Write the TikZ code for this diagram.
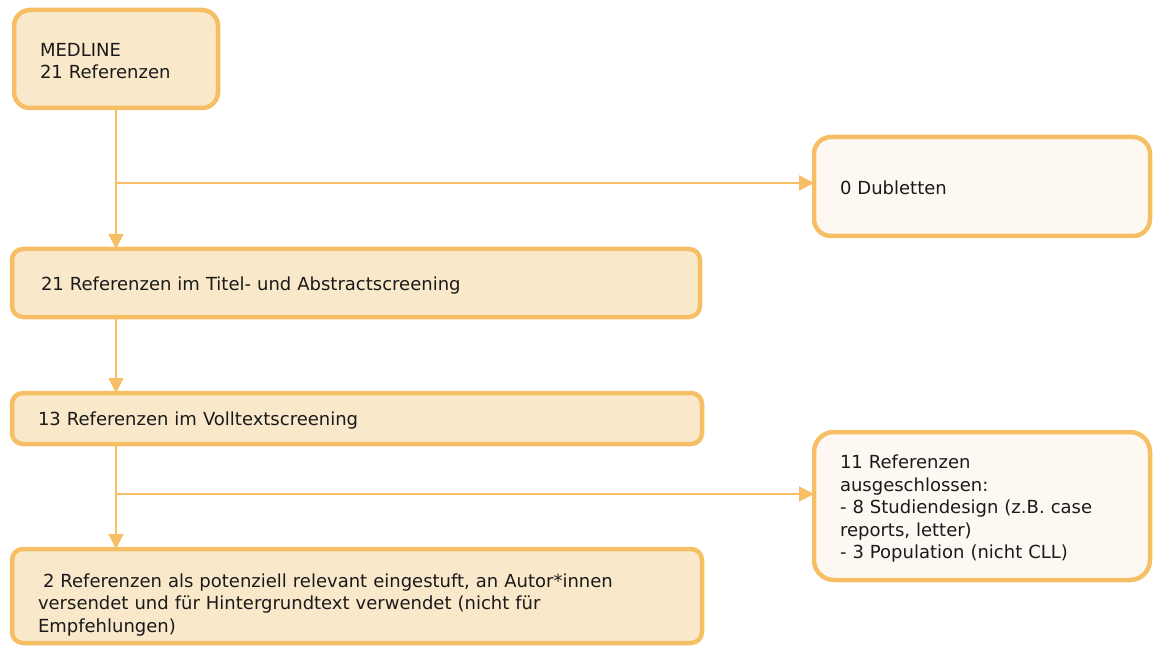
\documentclass[tikz,border=0pt]{standalone}
\usepackage{fontspec}
\setmainfont{DejaVu Sans}
\usetikzlibrary{arrows.meta}
\definecolor{borange}{HTML}{F7BF65}
\definecolor{bfill}{HTML}{FAE8CB}
\definecolor{bpale}{HTML}{FDF9F2}
\definecolor{btext}{HTML}{1A1A1A}
\tikzset{
  box/.style={draw=borange, line width=4.5pt, fill=bfill, rounded corners=11pt,
    anchor=north west, align=left, inner xsep=26pt, inner ysep=0pt, outer sep=0pt,
    text=btext, font=\fontsize{18}{22.5}\selectfont},
  sidebox/.style={box, fill=bpale, rounded corners=17pt},
  conn/.style={draw=borange, line width=2pt, -{Triangle[length=15pt,width=15pt]}}
}
\begin{document}
\begin{tikzpicture}[x=1pt,y=-1pt]
\useasboundingbox (0,0) rectangle (1154,647);
\node[box, rounded corners=16pt, text width=152pt, minimum height=98pt] (medline) at (14,10) {\rule{0pt}{17pt}MEDLINE\\21 Referenzen};
\node[sidebox, text width=284pt, minimum height=99pt] (dub) at (814,137) {\rule{0pt}{16pt}0 Dubletten};
\node[box, inner xsep=29pt, text width=630pt, minimum height=68pt] (titel) at (12,249) {\rule{0pt}{19pt}21 Referenzen im Titel- und Abstractscreening};
\node[box, text width=638pt, minimum height=51pt] (voll) at (12,393) {\rule{0pt}{17pt}13 Referenzen im Volltextscreening};
\node[box, text width=638pt, minimum height=94pt] (rel) at (12,549) {\rule{0pt}{31pt}\hspace{5pt}2 Referenzen als potenziell relevant eingestuft, an Autor*innen\\versendet und für Hintergrundtext verwendet (nicht für\\Empfehlungen)};
\node[sidebox, rounded corners=20pt, text width=284pt, minimum height=148pt] (excl) at (814,432) {\rule{0pt}{19pt}11 Referenzen\\ausgeschlossen:\\- 8 Studiendesign (z.B. case\\reports, letter)\\- 3 Population (nicht CLL)};
\coordinate (b1) at (117,183);
\coordinate (b2) at (117,494);
\draw[conn] (medline.south) -- (medline.south |- titel.north);
\draw[conn] (b1) -- (b1 -| dub.west);
\draw[conn] (medline.south |- titel.south) -- (medline.south |- voll.north);
\draw[conn] (medline.south |- voll.south) -- (medline.south |- rel.north);
\draw[conn] (b2) -- (b2 -| excl.west);
\end{tikzpicture}
\end{document}
